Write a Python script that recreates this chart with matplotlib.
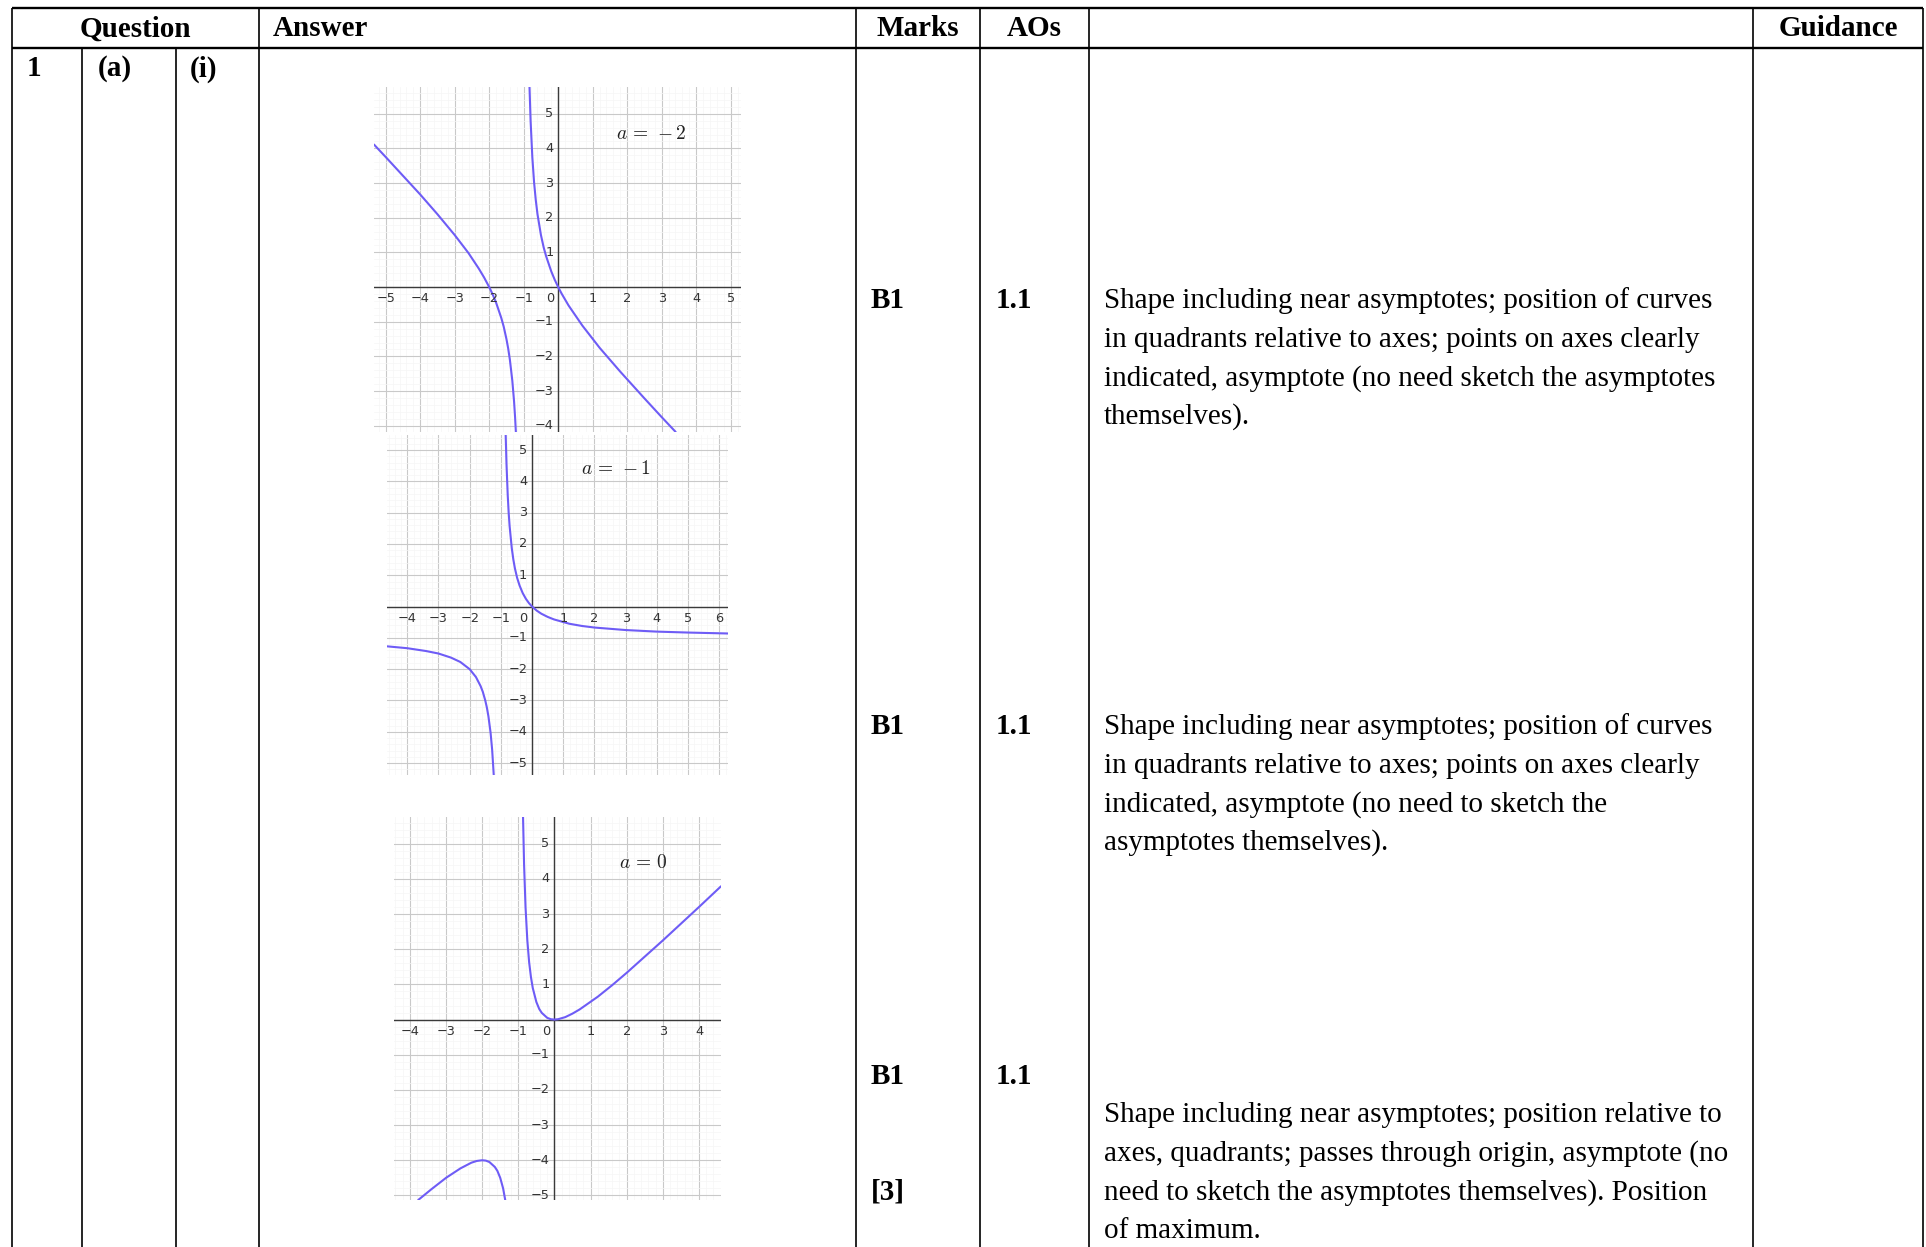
"""Mark scheme table, Q1(a)(i): three sketches of the curve for a = -2, -1, 0."""
import numpy as np
import matplotlib; matplotlib.use("Agg"); import matplotlib.pyplot as plt

W, H = 1926, 1247
SERIF = "Liberation Serif"; FS = 21
CURVE = "#6e5cf6"

HEADERS = ["Question", "Answer", "Marks", "AOs", "Guidance"]
QPARTS = ["1", "(a)", "(i)"]
MARKS = ["B1", "B1", "B1", "[3]"]
AOS = ["1.1", "1.1", "1.1"]
GUIDE = [
    ["Shape including near asymptotes; position of curves",
     "in quadrants relative to axes; points on axes clearly",
     "indicated, asymptote (no need sketch the asymptotes",
     "themselves)."],
    ["Shape including near asymptotes; position of curves",
     "in quadrants relative to axes; points on axes clearly",
     "indicated, asymptote (no need to sketch the",
     "asymptotes themselves)."],
    ["Shape including near asymptotes; position relative to",
     "axes, quadrants; passes through origin, asymptote (no",
     "need to sketch the asymptotes themselves). Position",
     "of maximum."],
]

A_LABELS = ["$a\\,=\\,-2$", "$a\\,=\\,-1$", "$a\\,=\\,0$"]

# a = -2 : two branches
M2_LX = [-5.34, -5.0, -4.5, -4.0, -3.5, -3.0, -2.6, -2.3, -2.15, -2.0, -1.9, -1.8, -1.65,
         -1.58, -1.5, -1.45, -1.4, -1.33, -1.28, -1.25, -1.227]
M2_LY = [4.11, 3.75, 3.21, 2.67, 2.10, 1.50, 0.98, 0.53, 0.28, 0.0, -0.21, -0.45, -0.89,
         -1.14, -1.5, -1.77, -2.1, -2.70, -3.29, -3.75, -4.18]
M2_RX = [-0.832, -0.8, -0.75, -0.7, -0.65, -0.6, -0.5, -0.42, -0.35, -0.2, -0.1, 0.0, 0.1,
         0.3, 0.7, 1.2, 1.8, 2.5, 3.0, 3.407]
M2_RY = [5.78, 4.8, 3.75, 3.03, 2.51, 2.1, 1.5, 1.14, 0.89, 0.45, 0.21, 0.0, -0.19,
         -0.53, -1.11, -1.75, -2.44, -3.21, -3.75, -4.18]

# a = -1
M1_LX = [-4.65, -4.0, -3.4, -3.0, -2.6, -2.3, -2.0, -1.8, -1.65, -1.58, -1.5, -1.45, -1.4,
         -1.33, -1.28, -1.228]
M1_LY = [-1.27, -1.33, -1.42, -1.5, -1.63, -1.77, -2.0, -2.25, -2.54, -2.72, -3.0, -3.22,
         -3.5, -4.03, -4.57, -5.39]
M1_RX = [-0.846, -0.82, -0.78, -0.75, -0.72, -0.65, -0.6, -0.55, -0.48, -0.4, -0.3, -0.2,
         -0.1, 0.0, 0.15, 0.3, 0.5, 0.7, 1.2, 1.6, 2.0, 3.0, 4.0, 5.0, 6.28]
M1_RY = [5.49, 4.56, 3.55, 3.0, 2.57, 1.86, 1.5, 1.22, 0.92, 0.67, 0.43, 0.25,
         0.11, 0.0, -0.13, -0.23, -0.33, -0.41, -0.55, -0.62, -0.67, -0.75, -0.8, -0.83, -0.86]

# a = 0
Z_LX = [-3.77, -3.4, -3.0, -2.6, -2.3, -2.15, -2.0, -1.9, -1.8, -1.65, -1.58, -1.5, -1.42, -1.36]
Z_LY = [-5.13, -4.82, -4.5, -4.23, -4.07, -4.02, -4.0, -4.01, -4.05, -4.19, -4.30, -4.5, -4.8, -5.14]
Z_RX = [-0.87, -0.84, -0.8, -0.75, -0.7, -0.65, -0.6, -0.5, -0.42, -0.35, -0.2, -0.1, 0.0,
        0.1, 0.3, 0.5, 0.7, 1.2, 1.6, 2.0, 3.0, 4.0, 4.61]
Z_RY = [5.82, 4.41, 3.2, 2.25, 1.63, 1.21, 0.9, 0.5, 0.30, 0.19, 0.05, 0.01, 0.0,
        0.01, 0.07, 0.17, 0.29, 0.65, 0.98, 1.33, 2.25, 3.2, 3.79]

BRANCHES = [[(M2_LX, M2_LY), (M2_RX, M2_RY)],
            [(M1_LX, M1_LY), (M1_RX, M1_RY)],
            [(Z_LX, Z_LY), (Z_RX, Z_RY)]]

# layout in pixels: box (x0, y0, x1, y1), x view, y view, label pos
GRAPHS = [((374, 87, 741, 432), (-5.34, 5.30), (-4.18, 5.77), (2.71, 4.42)),
          ((387, 435, 728, 775), (-4.65, 6.28), (-5.38, 5.48), (2.70, 4.42)),
          ((394, 817, 721, 1200), (-4.44, 4.61), (-5.13, 5.76), (2.47, 4.48))]
COLS = [12, 82, 176, 259, 856, 980, 1089, 1753, 1923]


def table(bg):
    kw = dict(color="k", lw=1.2)
    bg.hlines([7.5, 48], COLS[0], COLS[-1], color="k", lw=1.7)
    for x in COLS:
        top = 48 if x in (82, 176) else 7.5
        bg.vlines(x, top, H, **kw)
    t = dict(family=SERIF, fontsize=FS, va="center")
    hy = 29
    bg.text((COLS[0] + COLS[3]) / 2, hy, HEADERS[0], ha="center", weight="bold", **t)
    bg.text(273, hy, HEADERS[1], ha="left", weight="bold", **t)
    bg.text((COLS[4] + COLS[5]) / 2, hy, HEADERS[2], ha="center", weight="bold", **t)
    bg.text((COLS[5] + COLS[6]) / 2, hy, HEADERS[3], ha="center", weight="bold", **t)
    bg.text((COLS[7] + COLS[8]) / 2, hy, HEADERS[4], ha="center", weight="bold", **t)
    for x, s in zip([27, 98, 190], QPARTS):
        bg.text(x, 69, s, ha="left", weight="bold", **t)
    for y, s in zip([301, 727, 1076, 1192], MARKS):
        bg.text(871, y, s, ha="left", weight="bold", **t)
    for y, s in zip([301, 727, 1076], AOS):
        bg.text(996, y, s, ha="left", weight="bold", **t)
    for y0, lines in zip([301, 727, 1115], GUIDE):
        for k, ln in enumerate(lines):
            bg.text(1104, y0 + 38.6 * k, ln, ha="left", **t)


def sketch(ax, branches, xl, yl, lab):
    ax.set_xlim(*xl); ax.set_ylim(*yl)
    for s in ax.spines.values(): s.set_visible(False)
    ax.set_xticks(np.arange(np.ceil(xl[0]), xl[1], 1.0))
    ax.set_yticks(np.arange(np.ceil(yl[0]), yl[1], 1.0))
    ax.set_xticks(np.arange(np.ceil(xl[0] * 5) / 5, xl[1], 0.2), minor=True)
    ax.set_yticks(np.arange(np.ceil(yl[0] * 5) / 5, yl[1], 0.2), minor=True)
    ax.grid(True, which="minor", color="#f6f6f6", lw=0.5)
    ax.grid(True, which="major", color="#c9c9c9", lw=0.8)
    ax.tick_params(which="both", length=0, labelbottom=False, labelleft=False)
    ax.axhline(0, color="#3a3a3a", lw=1.0); ax.axvline(0, color="#3a3a3a", lw=1.0)
    lk = dict(textcoords="offset points", fontsize=9.3, color="#333", family="DejaVu Sans",
              annotation_clip=False, clip_on=True)
    for v in ax.get_xticks():
        if v == 0:
            ax.annotate("0", (0, 0), xytext=(-6, -8.5), ha="center", va="center", **lk)
        else:
            ax.annotate(f"{int(v)}".replace("-", "\u2212"), (v, 0), xytext=(0, -8.5),
                        ha="center", va="center", **lk)
    for v in ax.get_yticks():
        if v != 0:
            ax.annotate(f"{int(v)}".replace("-", "\u2212"), (0, v), xytext=(-3.5, 0),
                        ha="right", va="center", **lk)
    for bx, by in branches:
        ax.plot(bx, by, color=CURVE, lw=1.5, solid_capstyle="round")
    ax.text(*lab[1], lab[0], fontsize=14, color="#222", ha="center", va="center")


if __name__ == "__main__":
    plt.rcParams["mathtext.fontset"] = "cm"
    fig = plt.figure(figsize=(W / 100, H / 100), dpi=100)
    bg = fig.add_axes([0, 0, 1, 1]); bg.set_xlim(0, W); bg.set_ylim(H, 0); bg.axis("off")
    table(bg)
    for (box, xl, yl, pos), br, lab in zip(GRAPHS, BRANCHES, A_LABELS):
        x0, y0, x1, y1 = box
        ax = fig.add_axes([x0 / W, (H - y1) / H, (x1 - x0) / W, (y1 - y0) / H])
        sketch(ax, br, xl, yl, (lab, pos))
    fig.savefig("out.png", dpi=100)
